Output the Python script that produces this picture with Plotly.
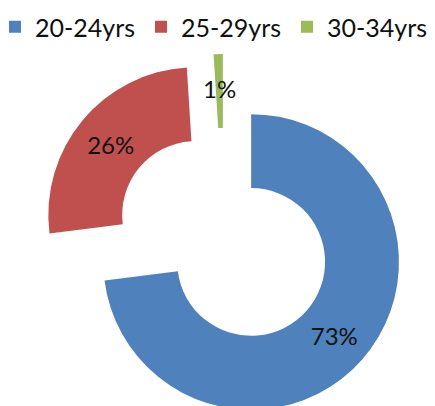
import math
import plotly.graph_objects as go

labels = ["20-24yrs", "25-29yrs", "30-34yrs"]
values = [73, 26, 1]
colors = ["#4F81BD", "#C0504D", "#9BBB59"]

W, H = 435, 424
hole = 0.5
pull = 0.245
mt = 46
# pie box in pixels (left, right, top, bottom)
bl, br, bt, bb = 40, 408, 54, 422
pw, ph = W, H - mt
dom_x = [bl / pw, br / pw]
dom_y = [(H - bb) / ph, 1 - (bt - mt) / ph]
r = min(br - bl, bb - bt) / (2 + 2 * pull)
cx = (bl + br) / 2
cy = (bt + bb) / 2

total = sum(values)
texttemplate = []
annotations = []
cum = 0
for v in values:
    mid = (cum + v / 2) / total * 2 * math.pi
    cum += v
    if v / total < 0.05:
        texttemplate.append("")
        pcx = cx + pull * r * math.sin(mid)
        pcy = cy - pull * r * math.cos(mid)
        rr = r * (1 + hole) / 2
        px = pcx + rr * math.sin(mid)
        py = pcy - rr * math.cos(mid) - 3
        annotations.append(dict(
            x=px / pw, y=1 - (py - mt) / ph, xref="paper", yref="paper",
            text=f"{round(100 * v / total)}%", showarrow=False,
            font=dict(family="Lato", size=24, color="#111111"),
            xanchor="center", yanchor="middle"))
    else:
        texttemplate.append("%{percent}")

fig = go.Figure(go.Pie(
    labels=labels, values=values, sort=False, direction="clockwise", rotation=0,
    hole=hole, pull=pull, domain=dict(x=dom_x, y=dom_y),
    marker=dict(colors=colors, line=dict(width=0)),
    texttemplate=texttemplate, textposition="inside", insidetextorientation="horizontal",
    textfont=dict(family="Lato", size=24, color="#111111"),
    hoverinfo="label+percent",
))

fig.update_layout(
    width=W, height=H,
    margin=dict(l=0, r=0, t=mt, b=0, autoexpand=False),
    paper_bgcolor="white", plot_bgcolor="white",
    font=dict(family="Lato", size=24, color="#111111"),
    annotations=annotations,
    uniformtext=dict(minsize=24, mode="show"),
    legend=dict(orientation="h", xref="paper", yref="paper",
                x=-5 / W, y=1 + (mt - 4) / ph, xanchor="left", yanchor="top",
                entrywidth=101, entrywidthmode="pixels",
                font=dict(family="Lato", size=25, color="#111111"),
                bgcolor="rgba(0,0,0,0)"),
    showlegend=True,
)

fig.write_html("out.html", post_script="document.body.style.margin='0';document.body.style.overflow='hidden';document.documentElement.style.overflow='hidden';")
